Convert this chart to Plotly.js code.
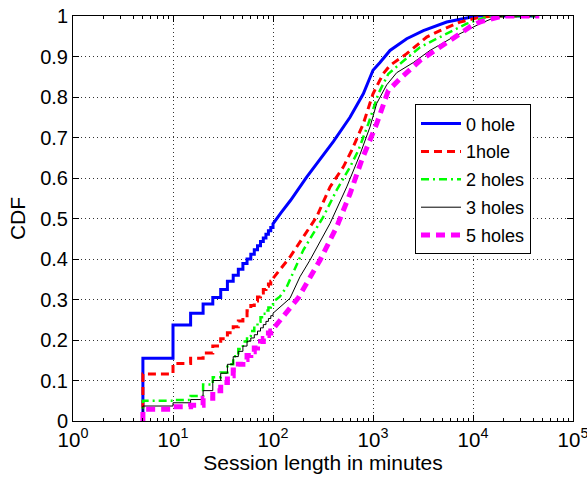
<!DOCTYPE html>
<html>
<head>
<meta charset="utf-8">
<script src="https://cdn.plot.ly/plotly-3.0.1.min.js"></script>
<style>html,body{margin:0;padding:0;background:#fff;}#chart{width:587px;height:480px;}</style>
</head>
<body>
<div id="chart"></div>
<script>
// Session lengths (minutes) where the empirical CDF steps, for the low range
const stepX = [5,10,15,20,25,30,35,40,45,50,55,60,65,70,75,80,85,90,95,100];

// 0 hole
const hole0Step = [0.155,0.237,0.266,0.289,0.305,0.325,0.345,0.36,0.375,0.389,0.4,0.412,0.423,0.433,0.443,0.452,0.461,0.47,0.478,0.487];
const hole0TailX = [120,150,217,344,401,589,800,1000,1175,1479,2173,3190,5457,8650,10900,45000];
const hole0TailY = [0.514,0.545,0.602,0.668,0.69,0.75,0.808,0.866,0.885,0.915,0.944,0.964,0.985,0.995,1.0,1.0];

// 1 hole
const hole1Step = [0.116,0.142,0.155,0.168,0.185,0.203,0.218,0.233,0.247,0.26,0.272,0.285,0.296,0.306,0.316,0.325,0.333,0.338,0.345,0.352];
const hole1TailX = [148,201,273,372,504,612,800,1000,1260,1479,2173,3440,4677,7413,11750,16000,45000];
const hole1TailY = [0.405,0.455,0.504,0.578,0.627,0.668,0.734,0.808,0.857,0.878,0.907,0.948,0.964,0.985,0.997,1.0,1.0];

// 2 holes
const hole2Step = [0.05,0.052,0.062,0.09,0.108,0.12,0.14,0.16,0.178,0.196,0.21,0.222,0.234,0.245,0.256,0.265,0.273,0.28,0.287,0.294];
const hole2TailX = [117,137,201,318,433,589,713,898,1130,1422,1862,2951,4677,8650,12680,16000,45000];
const hole2TailY = [0.307,0.331,0.422,0.504,0.57,0.627,0.668,0.734,0.808,0.857,0.882,0.923,0.948,0.981,0.995,1.0,1.0];

// 3 holes
const hole3Step = [0.037,0.045,0.053,0.075,0.1,0.118,0.14,0.159,0.172,0.185,0.197,0.205,0.213,0.222,0.23,0.238,0.246,0.253,0.26,0.266];
const hole3TailX = [148,186,234,372,546,741,933,1089,1371,1726,2530,3715,6350,11750,16000,20000,45000];
const hole3TailY = [0.303,0.356,0.397,0.488,0.578,0.658,0.726,0.784,0.83,0.86,0.885,0.915,0.948,0.981,0.995,1.0,1.0];

// 5 holes
const hole5Step = [0.029,0.035,0.039,0.056,0.075,0.095,0.112,0.126,0.14,0.152,0.162,0.171,0.18,0.188,0.196,0.204,0.211,0.217,0.222,0.227];
const hole5TailX = [180,295,433,589,771,1089,1422,1862,2951,4677,8000,10000,12000,16000,20000,46000];
const hole5TailY = [0.305,0.397,0.479,0.561,0.644,0.734,0.816,0.845,0.89,0.923,0.96,0.978,0.986,0.995,1.0,1.0];

const seriesNames = ['0 hole','1hole','2 holes','3 holes','5 holes'];
const xTickVals = [1,10,100,1000,10000,100000];
const xTickText = ['10<sup>0</sup>','10<sup>1</sup>','10<sup>2</sup>','10<sup>3</sup>','10<sup>4</sup>','10<sup>5</sup>'];

function buildCdf(stepY, tailX, tailY) {
  const xs = [stepX[0]], ys = [0];
  for (let i = 0; i < stepX.length; i++) {
    if (i > 0) { xs.push(stepX[i]); ys.push(stepY[i-1]); }
    xs.push(stepX[i]); ys.push(stepY[i]);
  }
  return {x: xs.concat(tailX), y: ys.concat(tailY)};
}

const styles = [
  {color:'#0000FF', width:3, dash:'solid'},
  {color:'#FF0000', width:3, dash:'8px,5px'},
  {color:'#00FF00', width:2.5, dash:'8px,4px,2px,4px'},
  {color:'#000000', width:1, dash:'solid'},
  {color:'#FF00FF', width:5, dash:'9px,6px'}
];
const raw = [
  buildCdf(hole0Step, hole0TailX, hole0TailY),
  buildCdf(hole1Step, hole1TailX, hole1TailY),
  buildCdf(hole2Step, hole2TailX, hole2TailY),
  buildCdf(hole3Step, hole3TailX, hole3TailY),
  buildCdf(hole5Step, hole5TailX, hole5TailY)
];
const traces = raw.map((d, i) => ({
  x: d.x, y: d.y, type:'scatter', mode:'lines', name: seriesNames[i],
  legendgroup: 'g' + i,
  line: {color: styles[i].color, width: styles[i].width, dash: styles[i].dash}
}));

const font = 'Liberation Sans, Arial, sans-serif';
const layout = {
  width:587, height:480,
  margin:{l:73, r:14, t:15.5, b:59},
  paper_bgcolor:'#fff', plot_bgcolor:'#fff',
  font:{family:font, color:'#000'},
  showlegend:true,
  legend:{x:0.684, y:0.782, xanchor:'left', yanchor:'top', bgcolor:'#fff', bordercolor:'#000', borderwidth:1,
          font:{family:font, size:18, color:'#000'}, tracegroupgap:1.5, itemwidth:40},
  xaxis:{type:'log', range:[0,5.00001], tickvals:xTickVals, ticktext:xTickText, ticklabeloverflow:'allow',
         ticks:'inside', ticklen:6, tickcolor:'#000', showline:true, linecolor:'#000', linewidth:1, mirror:'allticks',
         showgrid:true, gridcolor:'#333', gridwidth:1, griddash:'1px,3px', zeroline:false,
         minor:{ticks:'inside', ticklen:3, tickcolor:'#000', dtick:'D1', showgrid:false},
         tickfont:{family:font, size:20.5, color:'#000'},
         title:{text:'Session length in minutes', font:{family:font, size:21, color:'#000'}, standoff:4}},
  yaxis:{range:[0,1], dtick:0.1, tick0:0,
         ticks:'inside', ticklen:6, tickcolor:'#000', showline:true, linecolor:'#000', linewidth:1, mirror:'allticks',
         showgrid:true, gridcolor:'#333', gridwidth:1, griddash:'1px,3px', zeroline:false,
         tickfont:{family:font, size:20, color:'#000'},
         title:{text:'CDF', font:{family:font, size:21, color:'#000'}, standoff:8}}
};
Plotly.newPlot('chart', traces, layout, {staticPlot:true, displayModeBar:false});
</script>
</body>
</html>
